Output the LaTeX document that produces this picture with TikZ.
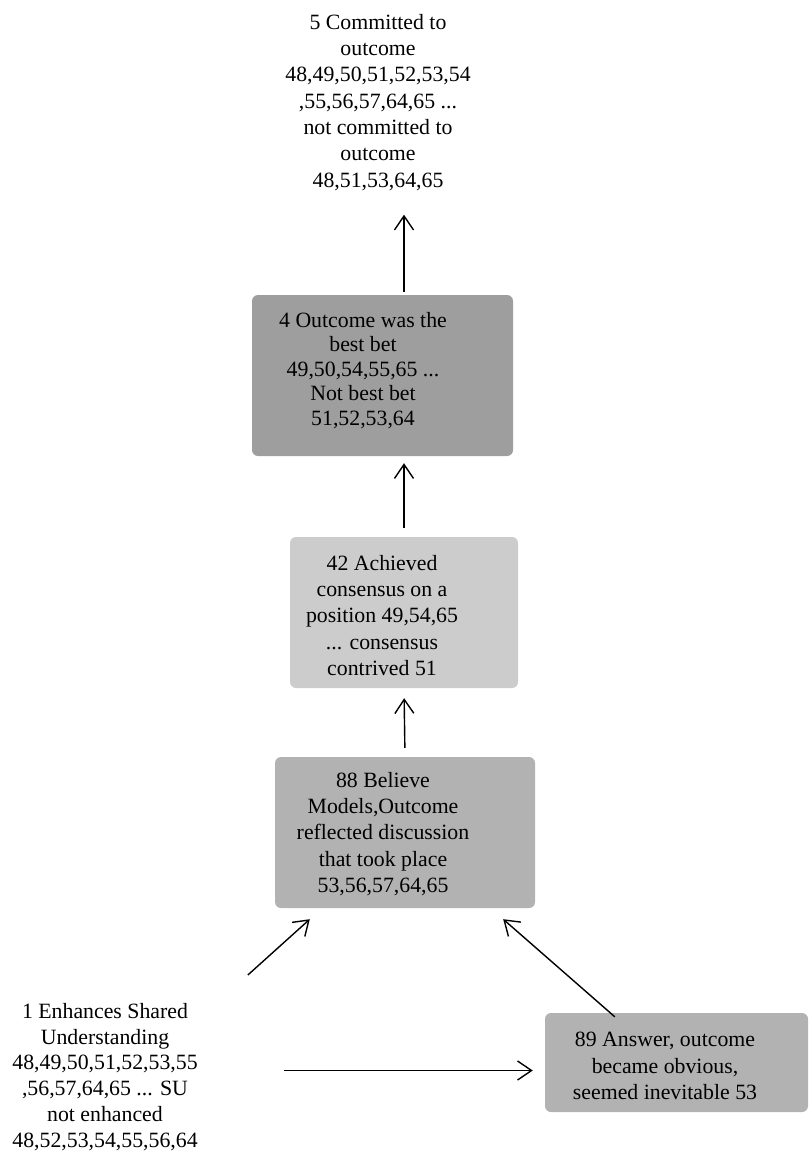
\documentclass[tikz,border=0pt]{standalone}
\usepackage{fontspec}
\setmainfont{Liberation Serif}
\usepackage{xcolor}
\usepackage{tikz}
\usetikzlibrary{arrows.meta, positioning, calc}
\tikzset{
  shade/.style={rounded corners=6pt, inner sep=0pt},
  txt/.style={align=center, inner sep=0pt, anchor=north, font=\fontsize{21.8}{26.3}\selectfont},
  arrow/.style={-{Straight Barb[length=14pt,width=19pt]}, line width=1.4pt}
}
\begin{document}
\begin{tikzpicture}[x=1pt,y=-1pt]
    \useasboundingbox (0,0) rectangle (810,1153);
    % shaded boxes
    \node[shade, fill=black!38, minimum width=261pt, minimum height=161pt] (bestbet) at (382.5,375.5) {};
    \node[shade, fill=black!20, minimum width=228pt, minimum height=151pt] (consensus) at (404,612.5) {};
    \node[shade, fill=black!30, minimum width=260pt, minimum height=151pt] (believe) at (405,832.5) {};
    \node[shade, fill=black!30, minimum width=263pt, minimum height=99pt] (answer) at (676.5,1062.5) {};
    % texts
    \node[txt] (committed) at (378,14) {5 Committed to\\ outcome\\ 48,49,50,51,52,53,54\\ ,55,56,57,64,65 ...\\ not committed to\\ outcome\\ 48,51,53,64,65};
    \node[txt, font=\fontsize{21.8}{24.5}\selectfont] (bestbettxt) at (363,312) {4 Outcome was the\\ best bet\\ 49,50,54,55,65 ...\\ Not best bet\\ 51,52,53,64};
    \node[txt] (consensustxt) at (382,555) {42 Achieved\\ consensus on a\\ position 49,54,65\\ ... consensus\\ contrived 51};
    \node[txt] (believetxt) at (383,772) {88 Believe\\ Models,Outcome\\ reflected discussion\\ that took place\\ 53,56,57,64,65};
    \node[txt] (answertxt) at (665,1032) {89 Answer, outcome\\ became obvious,\\ seemed inevitable 53};
    \node[txt, font=\fontsize{21.8}{25.8}\selectfont] (enhances) at (105,1003) {1 Enhances Shared\\ Understanding\\ 48,49,50,51,52,53,55\\ ,56,57,64,65 ... SU\\ not enhanced\\ 48,52,53,54,55,56,64};
    % arrows
    \draw[arrow, shorten <=3pt, shorten >=24pt] (bestbet.north -| consensus.north) -- (committed.south -| consensus.north);
    \draw[arrow, shorten <=9pt, shorten >=7pt] (consensus.north) -- (bestbet.south -| consensus.north);
    \draw[arrow, shorten <=9pt, shorten >=10pt] (believe.north) -- (consensus.south);
    \draw[arrow] ($(enhances.north east)+(50,-28)$) -- ($(believe.south west)+(35,11)$);
    \draw[arrow] ($(answer.north west)+(70,4)$) -- ($(believe.south east)+(-32,11)$);
    \draw[arrow] ($(enhances.east |- answer.west)+(86,8)$) -- ($(answer.west)+(-12,8)$);
\end{tikzpicture}
\end{document}
